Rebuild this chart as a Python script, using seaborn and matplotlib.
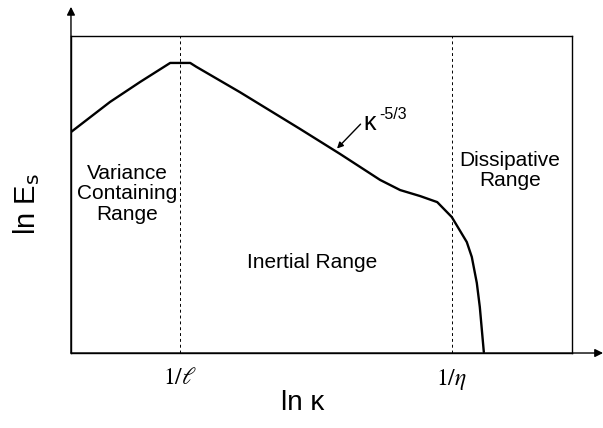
import numpy as np
import pandas as pd
import matplotlib
matplotlib.use("Agg")
import matplotlib.pyplot as plt
import seaborn as sns

# Schematic turbulence energy spectrum (ln E_s versus ln kappa), arbitrary units
ln_k = [0.00, 0.78, 1.38, 1.88, 1.98, 2.38, 2.50, 3.37, 4.57, 5.37, 6.17,
        6.57, 6.97, 7.31, 7.60, 7.90, 8.00, 8.10, 8.16, 8.24]
ln_E = [6.97, 7.92, 8.55, 9.05, 9.15, 9.15, 9.03, 8.23, 7.07, 6.28, 5.46,
        5.14, 4.95, 4.76, 4.29, 3.50, 3.03, 2.21, 1.45, 0.03]

# Characteristic wavenumbers (ln scale)
k_energy = 2.18      # 1/l
k_kolmogorov = 7.60  # 1/eta
tick_pos = [k_energy, k_kolmogorov]
tick_labels = [r"$1/\ell$", r"$1/\eta$"]

# Region labels
region_text = ["Variance\nContaining\nRange", "Inertial Range", "Dissipative\nRange"]
region_x = [1.12, 4.81, 8.76]
region_y = [5.02, 2.84, 5.75]

# Slope marker on the inertial range
slope_point = (5.31, 6.45)
slope_tail = (5.78, 7.22)

sns.set_style("white")
plt.rcParams["font.family"] = ["Liberation Sans", "DejaVu Sans"]
plt.rcParams["mathtext.fontset"] = "stix"
plt.rcParams["text.color"] = "black"
plt.rcParams["axes.labelcolor"] = "black"
plt.rcParams["xtick.color"] = "black"

fig = plt.figure(figsize=(6.03, 4.28), dpi=100)
ax = fig.add_axes([0.1177, 0.1752, 0.8309, 0.7407])

df = pd.DataFrame({"ln_k": ln_k, "ln_E": ln_E})
sns.lineplot(data=df, x="ln_k", y="ln_E", ax=ax, color="black", linewidth=1.7,
             sort=False, estimator=None)
for ln in ax.lines:
    ln.set_solid_joinstyle("round")

ax.set_xlim(0, 10)
ax.set_ylim(0, 10)

# Reference scales
for xv in tick_pos:
    ax.axvline(xv, color="black", linewidth=0.7, linestyle=(0, (3, 3)))

for s in ax.spines.values():
    s.set_color("black")
    s.set_linewidth(1.0)

# Extended coordinate axes with arrowheads
ax.annotate("", xy=(0, 1.092), xytext=(0, 0), xycoords="axes fraction",
            arrowprops=dict(arrowstyle="-|>", color="black", lw=1.0,
                            mutation_scale=12, shrinkA=0, shrinkB=0),
            annotation_clip=False)
ax.annotate("", xy=(1.062, 0), xytext=(0, 0), xycoords="axes fraction",
            arrowprops=dict(arrowstyle="-|>", color="black", lw=1.0,
                            mutation_scale=12, shrinkA=0, shrinkB=0),
            annotation_clip=False)

ax.set_xticks(tick_pos)
ax.set_xticklabels(tick_labels, fontsize=17)
ax.set_yticks([])
ax.tick_params(axis="x", length=0, pad=10)

ax.set_xlabel("ln κ", fontsize=20)
ax.xaxis.set_label_coords(0.463, -0.118)
ax.set_ylabel(r"ln E$_\mathrm{s}$", fontsize=21)
ax.yaxis.label.set_math_fontfamily("dejavusans")
ax.yaxis.set_label_coords(-0.058, 0.47)

for txt, xv, yv in zip(region_text, region_x, region_y):
    ax.text(xv, yv, txt, ha="center", va="center", fontsize=15,
            linespacing=1.1)

# Inertial-range slope annotation
ax.annotate("", xy=slope_point, xytext=slope_tail,
            arrowprops=dict(arrowstyle="-|>", color="black", lw=1.0,
                            mutation_scale=9, shrinkA=0, shrinkB=0))
ax.text(5.83, 7.03, "κ", fontsize=18, ha="left", va="baseline")
ax.text(6.15, 7.38, "-5/3", fontsize=11.5, ha="left", va="baseline")

fig.savefig("out.png", dpi=100)
